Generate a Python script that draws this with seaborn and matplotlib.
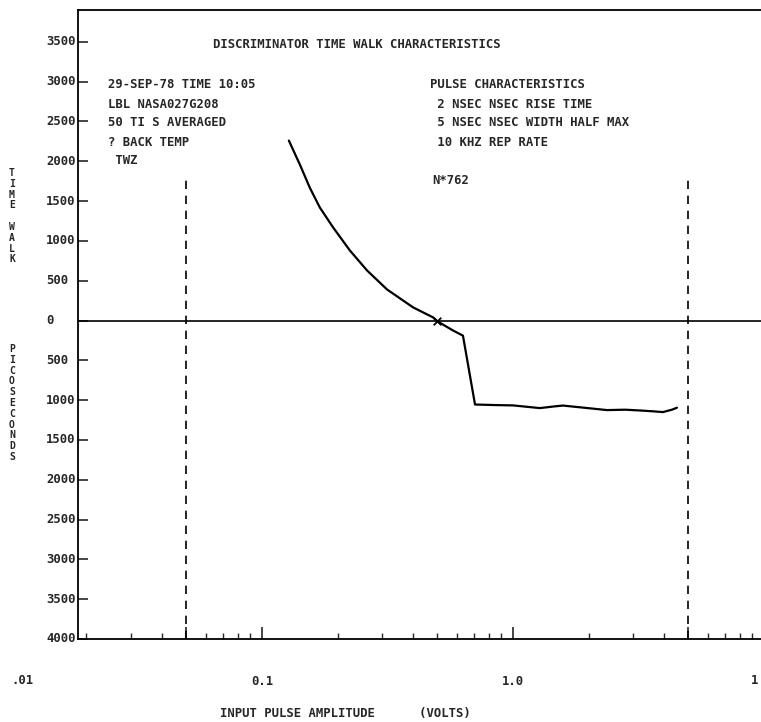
import matplotlib
matplotlib.use("Agg")
import matplotlib.pyplot as plt
from matplotlib.ticker import NullFormatter, FixedLocator
import numpy as np
import pandas as pd
import seaborn as sns

# Curve (volts, picoseconds)
amplitude = [0.128, 0.142, 0.155, 0.170, 0.192, 0.224, 0.262, 0.315, 0.40, 0.48,
             0.50, 0.577, 0.632, 0.706, 0.85, 1.0, 1.28, 1.45, 1.58, 1.85,
             2.37, 2.8, 3.21, 3.6, 3.96, 4.3, 4.5]
time_walk = [2260, 1950, 1670, 1420, 1170, 880, 630, 390, 165, 40,
             -10, -125, -190, -1055, -1062, -1066, -1100, -1080, -1068, -1090,
             -1125, -1120, -1130, -1140, -1150, -1120, -1095]
crossing_volts = [0.5]
crossing_ps = [0]

# Dashed markers at the pulse range limits
limit_volts = [0.05, 5.0]
limit_bottom = -4000
limit_top = 1800

y_ticks = [3500, 3000, 2500, 2000, 1500, 1000, 500, 0, -500, -1000, -1500,
           -2000, -2500, -3000, -3500, -4000]
y_ticklabels = [str(abs(v)) for v in y_ticks]
x_major = [0.05, 0.1, 1.0, 5.0]
x_major_labels = ['', '0.1', '1.0', '']
x_edge_labels = [(0.01, '.01', 'left'), (9.2, '1', 'center')]

left_block = ["29-SEP-78 TIME 10:05", "LBL NASA027G208", "50 TI S AVERAGED",
              "? BACK TEMP", " TWZ"]
right_block = ["PULSE CHARACTERISTICS", " 2 NSEC NSEC RISE TIME",
               " 5 NSEC NSEC WIDTH HALF MAX", " 10 KHZ REP RATE"]
title = "DISCRIMINATOR TIME WALK CHARACTERISTICS"
count_label = "N*762"

sns.set_theme(style="white")
plt.rcParams['font.family'] = ['DejaVu Sans Mono']
plt.rcParams['font.weight'] = 'bold'

W, H = 761, 722
fig = plt.figure(figsize=(W / 100, H / 100), dpi=100)
ax = fig.add_axes([78 / W, (H - 639) / H, 1 - 78 / W, (639 - 10) / H])

df = pd.DataFrame({"volts": amplitude, "ps": time_walk})
sns.lineplot(data=df, x="volts", y="ps", color="black", linewidth=1.6,
             sort=False, estimator=None, ax=ax)
ax.scatter(crossing_volts, crossing_ps, marker="x", color="black", s=30, linewidths=1.3, zorder=5)

ax.axhline(0, color="black", linewidth=1.2)
ax.vlines(limit_volts, limit_bottom, limit_top, colors="black",
          linestyles=(0, (5, 4)), linewidth=1.2)

ax.set_xscale("log")
ax.set_xlim(0.0185, 9.73)
ax.set_ylim(-4000, 3900)

ax.xaxis.set_major_locator(FixedLocator(x_major))
ax.set_xticklabels(x_major_labels)
ax.xaxis.set_minor_formatter(NullFormatter())
ax.set_yticks(y_ticks)
ax.set_yticklabels([])
ax.tick_params(axis="x", which="major", direction="in", length=9, width=1.2,
               pad=26, labelsize=8.8, bottom=True)
ax.tick_params(axis="x", which="minor", direction="in", length=4, width=1,
               bottom=True)
ax.tick_params(axis="y", direction="in", length=7, width=1.2, left=True)

# left-aligned value column like the original printout
yform = ax.get_yaxis_transform()
for v, s in zip(y_ticks, y_ticklabels):
    ax.text(-32 / 683, v, s, transform=yform, ha="left", va="center",
            fontsize=8.8, clip_on=False)

for side in ["left", "bottom", "top"]:
    ax.spines[side].set_color("black")
    ax.spines[side].set_linewidth(1.3)
ax.spines["right"].set_visible(False)
ax.set_xlabel("")
ax.set_ylabel("")

xform = ax.get_xaxis_transform()
for xv, txt, ha in x_edge_labels:
    ax.text(xv, -(681 - 639) / 629, txt, transform=xform, ha=ha, va="center",
            fontsize=8.8, clip_on=False)

def ftext(px, py, s, **kw):
    fig.text(px / W, 1 - py / H, s, va="center", ha="left", fontsize=8.8, **kw)

ftext(213, 45, title)
for i, line in enumerate(left_block):
    ftext(108, 85 + i * 19, line)
for i, line in enumerate(right_block):
    ftext(430, 85 + i * 19, line)
ftext(432, 181, count_label)

ftext(220, 713, "INPUT PULSE AMPLITUDE      (VOLTS)")

fig.text(12 / W, 1 - 168 / H, "\n".join("TIME WALK"), ha="center", va="top",
         fontsize=7, linespacing=1.1)
fig.text(12 / W, 1 - 344 / H, "\n".join("PICOSECONDS"), ha="center", va="top",
         fontsize=7, linespacing=1.1)

fig.savefig("out.png", dpi=100)
